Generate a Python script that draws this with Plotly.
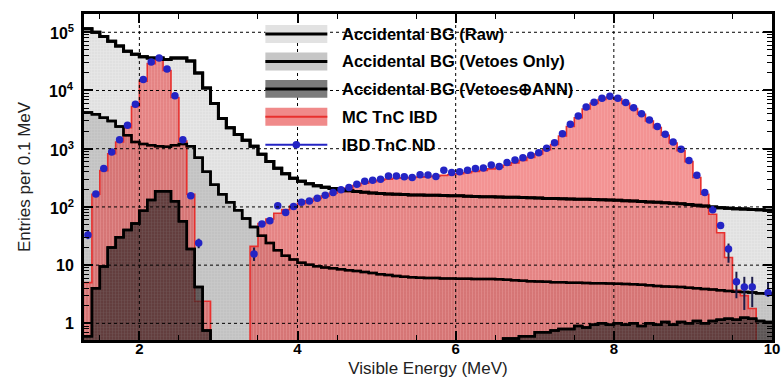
import numpy as np
import plotly.graph_objects as go

# ---------------- data (entries per 0.1 MeV bin, bins 1.3 .. 10.0 MeV) ----------------
bin_edges = np.round(np.arange(1.3, 10.0001, 0.1), 2)   # 88 edges -> 87 bins
bin_centers = np.round((bin_edges[:-1] + bin_edges[1:]) / 2, 3)

acc_raw = [115000, 100000, 85000, 70000, 58000, 47000, 42000, 38000, 36000, 36000,
           34000, 36000, 36000, 32000, 20000, 11000, 6000, 3300, 2300, 1750,
           1400, 1100, 800, 600, 460, 370, 310, 275, 250, 232,
           218, 207, 198, 190, 184, 178, 174, 170, 167, 165,
           163, 161, 160, 159, 158, 157, 156, 155, 153, 151,
           150, 149, 148, 147, 146, 145, 144, 142, 140, 139,
           138, 137, 136, 135, 134, 133, 132, 130, 128, 126,
           124, 122, 120, 118, 116, 113, 110, 107, 104, 100,
           97, 95, 93, 92, 90, 89, 88]

acc_vetoes = [4200, 3900, 3400, 3000, 2400, 1700, 1300, 1200, 1150, 1100,
              1080, 1150, 1200, 1100, 700, 400, 240, 165, 120, 88,
              63, 45, 32, 24, 18, 14.5, 12.5, 11, 10.2, 9.6,
              9.1, 8.8, 8.5, 8.2, 7.9, 7.6, 7.3, 7.0, 6.8, 6.5,
              6.3, 6.2, 6.1, 6.0, 6.0, 5.9, 5.9, 5.85, 5.85, 5.8,
              5.8, 5.8, 5.7, 5.6, 5.5, 5.4, 5.3, 5.25, 5.2, 5.1,
              5.1, 5.0, 5.0, 4.95, 4.9, 4.9, 4.85, 4.8, 4.75, 4.7,
              4.6, 4.5, 4.4, 4.3, 4.25, 4.2, 4.1, 4.0, 3.9, 3.8,
              3.7, 3.6, 3.5, 3.45, 3.4, 3.3, 3.25]

acc_ann = [0.6, 4.0, 9.5, 20, 30, 40, 52, 86, 132, 185,
           185, 125, 57, 19, 4.2, 0.75, 0, 0, 0, 0,
           0, 0, 0, 0, 0, 0, 0, 0, 0, 0,
           0, 0, 0, 0, 0, 0, 0, 0, 0, 0,
           0, 0, 0, 0, 0, 0, 0, 0, 0, 0,
           0, 0, 0, 0.55, 0.55, 0.6, 0.6, 0.7, 0.7, 0.75,
           0.8, 0.8, 0.9, 0.85, 0.95, 1.0, 0.95, 1.0, 0.95, 1.0,
           0.9, 1.0, 0.95, 1.05, 0.95, 1.05, 1.0, 1.1, 1.0, 1.1,
           1.15, 1.2, 1.15, 1.25, 1.2, 1.1, 1.05]

mc_ibd = [5, 165, 420, 820, 1300, 2300, 5300, 14500, 29000, 33000,
          22000, 7600, 1350, 165, 2.4, 2.4, 0, 0, 0, 0,
          0, 21, 52, 62, 78, 90, 103, 115, 127, 140,
          155, 172, 190, 210, 232, 255, 272, 288, 300, 310,
          315, 320, 325, 330, 338, 348, 360, 372, 388, 405,
          425, 450, 480, 520, 570, 630, 710, 810, 960, 1180,
          1650, 2400, 3400, 4800, 6000, 7000, 7600, 7200, 6000, 4900,
          3900, 3000, 2300, 1700, 1250, 920, 600, 320, 165, 75,
          36, 13.5, 3.7, 3.0, 1.8, 0, 0]

ibd_data = [33, 167, 458, 880, 1430, 2520, 5800, 15500, 31000, 36000,
            23500, 8100, 1420, 155, 24, None, None, None, None, None,
            None, 15.6, 51, 58, 105, 80, 102, 120, 127, 141,
            159, 177, 197, 215, 246, 275, 288, 300, 340, 340,
            330, 320, 356, 352, 333, 428, 390, 400, 428, 458,
            464, 524, 495, 578, 640, 700, 774, 855, 1020, 1260,
            1800, 2640, 3640, 5200, 6300, 7330, 8000, 7330, 6200, 5040,
            3990, 3100, 2400, 1780, 1310, 980, 630, 350, 177, 89,
            48, 19, 5.2, 4.2, 4.2, None, 3.35]

ibd_err_up = [7, 0, 0, 0, 0, 0, 0, 0, 0, 0,
              0, 0, 0, 0, 4.5, 0, 0, 0, 0, 0,
              0, 4.5, 0, 0, 0, 0, 0, 0, 0, 0,
              0, 0, 0, 0, 0, 0, 0, 0, 0, 0,
              0, 0, 0, 0, 0, 0, 0, 0, 0, 0,
              0, 0, 0, 0, 0, 0, 0, 0, 0, 0,
              0, 0, 0, 0, 0, 0, 0, 0, 0, 0,
              0, 0, 0, 0, 0, 0, 0, 0, 0, 0,
              0, 4.5, 2.5, 2.1, 2.1, 0, 1.8]
ibd_err_dn = [5, 0, 0, 0, 0, 0, 0, 0, 0, 0,
              0, 0, 0, 0, 4.5, 0, 0, 0, 0, 0,
              0, 3.8, 0, 0, 0, 0, 0, 0, 0, 0,
              0, 0, 0, 0, 0, 0, 0, 0, 0, 0,
              0, 0, 0, 0, 0, 0, 0, 0, 0, 0,
              0, 0, 0, 0, 0, 0, 0, 0, 0, 0,
              0, 0, 0, 0, 0, 0, 0, 0, 0, 0,
              0, 0, 0, 0, 0, 0, 0, 0, 0, 0,
              0, 8, 2.5, 2.5, 2.3, 0, 0.5]

legend_names = ["Accidental BG (Raw)", "Accidental BG (Vetoes Only)",
                "Accidental BG (Vetoes\u2295ANN)", "MC TnC IBD", "IBD TnC ND"]

x_ticks = [2, 4, 6, 8, 10]
y_ticks = [1, 10, 100, 1000, 10000, 100000]
y_ticktext = ["1", "10", "10<sup>2</sup>", "10<sup>3</sup>", "10<sup>4</sup>", "10<sup>5</sup>"]

X_RANGE = [1.3, 10.0]
Y_RANGE = [-0.286, 5.314]   # log10

# ---------------- styles ----------------
FONT = "Liberation Sans, Arial, sans-serif"
W, H = 784, 378
ML, MR, MT, MB = 83.5, 12, 13.5, 38
PW, PH = W - ML - MR, H - MT - MB
BLUE = "#2424c4"
RED_LINE = "#e8302e"


def step_xy(vals, floor=1e-2):
    y = [v if v > 0 else floor for v in vals]
    return list(bin_edges), y + [y[-1]]


def px2paper(px, py):
    return (px - ML) / PW, 1 - (py - MT) / PH


fig = go.Figure()

# raw BG fill
sx, sy = step_xy(acc_raw)
fig.add_trace(go.Scatter(x=sx, y=sy, mode="lines", line=dict(shape="hv", color="black", width=3),
                         fill="tozeroy",
                         fillpattern=dict(shape="+", bgcolor="#e0e0e0", fgcolor="#f3f3f3", size=3, solidity=0.3),
                         name=legend_names[0]))
# vetoes-only fill
sx, sy = step_xy(acc_vetoes)
fig.add_trace(go.Scatter(x=sx, y=sy, mode="lines", line=dict(shape="hv", color="black", width=2.5),
                         fill="tozeroy",
                         fillpattern=dict(shape="+", bgcolor="#c2c2c2", fgcolor="#d6d6d6", size=3, solidity=0.3),
                         name=legend_names[1]))
# MC IBD fill (semi-transparent red)
sx, sy = step_xy(mc_ibd)
fig.add_trace(go.Scatter(x=sx, y=sy, mode="lines", line=dict(shape="hv", color=RED_LINE, width=1.6),
                         fill="tozeroy",
                         fillpattern=dict(shape="|", bgcolor="rgba(232,40,40,0.5)",
                                          fgcolor="rgba(255,215,215,0.35)", size=3, solidity=0.3),
                         name=legend_names[3]))
# ANN fill
sx, sy = step_xy(acc_ann)
fig.add_trace(go.Scatter(x=sx, y=sy, mode="lines", line=dict(shape="hv", color="black", width=2.5),
                         fill="tozeroy",
                         fillpattern=dict(shape="+", bgcolor="rgba(45,35,35,0.68)",
                                          fgcolor="rgba(150,150,150,0.35)", size=3, solidity=0.3),
                         name=legend_names[2]))

# black outlines on top
for vals, w in [(acc_raw, 3), (acc_vetoes, 2.5), (acc_ann, 2.5)]:
    sx, sy = step_xy(vals)
    fig.add_trace(go.Scatter(x=sx, y=sy, mode="lines", line=dict(shape="hv", color="black", width=w),
                             showlegend=False, hoverinfo="skip"))

# data points
fig.add_trace(go.Scatter(x=bin_centers, y=ibd_data, mode="markers",
                         marker=dict(symbol="circle", size=7.5, color=BLUE),
                         error_y=dict(type="data", symmetric=False, array=ibd_err_up, arrayminus=ibd_err_dn,
                                      color="#1c1c48", thickness=2, width=0),
                         name=legend_names[4]))

# ---------------- dotted grid above everything ----------------
shapes = []
for xv in x_ticks[:-1]:
    shapes.append(dict(type="line", xref="x", yref="paper", x0=xv, x1=xv, y0=0, y1=1,
                       line=dict(color="black", width=1, dash="dot"), layer="above"))
for yv in y_ticks:
    fy = (np.log10(yv) - Y_RANGE[0]) / (Y_RANGE[1] - Y_RANGE[0])
    shapes.append(dict(type="line", xref="paper", yref="paper", x0=0, x1=1, y0=fy, y1=fy,
                       line=dict(color="black", width=1, dash="dot"), layer="above"))

annotations = []
# y tick labels (right-aligned next to the frame)
for yv, txt in zip(y_ticks, y_ticktext):
    annotations.append(dict(text=txt, xref="paper", yref="y", x=(75 - ML) / PW, y=np.log10(yv),
                            xanchor="right", yanchor="middle", showarrow=False,
                            font=dict(family=FONT, size=16, color="black", weight="bold")))

# ---------------- legend (drawn as a key box) ----------------
key_rows_y = [33.5, 61, 88.5, 116.5, 144.5]
key_x0, key_x1, key_text_x = 265, 327, 340
key_fill = ["#e2e2e2", "#c6c6c6", "#7c7c7c", "#f08a8a", None]
key_line = [("black", 3), ("black", 3), ("black", 3), (RED_LINE, 2), (BLUE, 2)]
for i, name in enumerate(legend_names):
    cy = key_rows_y[i]
    if key_fill[i]:
        x0, y0 = px2paper(key_x0, cy + 9)
        x1, y1 = px2paper(key_x1, cy - 9)
        shapes.append(dict(type="rect", xref="paper", yref="paper", x0=x0, x1=x1, y0=y0, y1=y1,
                           fillcolor=key_fill[i], line=dict(width=0), layer="above"))
    lx0, ly = px2paper(key_x0, cy)
    lx1, _ = px2paper(key_x1, cy)
    shapes.append(dict(type="line", xref="paper", yref="paper", x0=lx0, x1=lx1, y0=ly, y1=ly,
                       line=dict(color=key_line[i][0], width=key_line[i][1]), layer="above"))
    if i == 4:
        cx0, cy0 = px2paper((key_x0 + key_x1) / 2 - 3.8, cy + 3.8)
        cx1, cy1 = px2paper((key_x0 + key_x1) / 2 + 3.8, cy - 3.8)
        shapes.append(dict(type="circle", xref="paper", yref="paper", x0=cx0, x1=cx1, y0=cy0, y1=cy1,
                           fillcolor=BLUE, line=dict(width=0), layer="above"))
    tx, ty = px2paper(key_text_x, cy)
    annotations.append(dict(text=name, xref="paper", yref="paper", x=tx, y=ty,
                            xanchor="left", yanchor="middle", showarrow=False,
                            font=dict(family=FONT, size=16.5, color="black", weight="bold")))

minor_y = [k * 10.0 ** n for n in range(-1, 6) for k in range(2, 10)]
minor_x = [1.5, 2.5, 3.5, 4.5, 5.5, 6.5, 7.5, 8.5, 9.5]

fig.update_layout(
    width=W, height=H,
    margin=dict(l=ML, r=MR, t=MT, b=MB),
    paper_bgcolor="white", plot_bgcolor="white",
    shapes=shapes, annotations=annotations,
    showlegend=False,
    xaxis=dict(range=X_RANGE, showgrid=False, zeroline=False, automargin=False,
               tickvals=x_ticks, ticktext=[str(v) for v in x_ticks],
               ticks="inside", ticklen=9, tickwidth=1.5, tickcolor="black",
               minor=dict(tickvals=minor_x, ticks="inside", ticklen=5, tickwidth=1, tickcolor="black"),
               showline=True, linewidth=3, linecolor="black", mirror="allticks",
               layer="above traces", ticklabelstandoff=-7,
               tickfont=dict(family=FONT, size=15, color="black", weight="bold"),
               title=dict(text="Visible Energy (MeV)", standoff=10,
                          font=dict(family=FONT, size=17, color="#222"))),
    yaxis=dict(type="log", range=Y_RANGE, showgrid=False, zeroline=False, automargin=False,
               tickvals=y_ticks, showticklabels=False,
               ticks="inside", ticklen=9, tickwidth=1.5, tickcolor="black",
               minor=dict(tickvals=minor_y, ticks="inside", ticklen=5, tickwidth=1, tickcolor="black"),
               showline=True, linewidth=3, linecolor="black", mirror="allticks",
               layer="above traces",
               title=dict(text="Entries per 0.1 MeV", standoff=47,
                          font=dict(family=FONT, size=17, color="#222"))),
)

fig.write_html("out.html")
